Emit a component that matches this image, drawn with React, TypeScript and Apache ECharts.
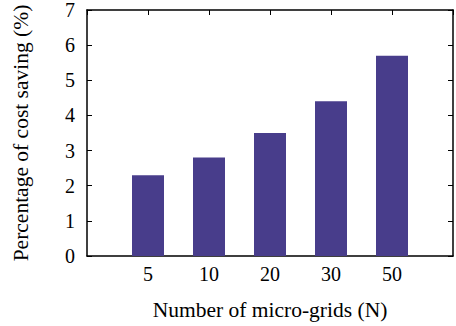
import React, { useEffect, useRef } from "react";
import * as echarts from "echarts";

const categories: string[] = ["5", "10", "20", "30", "50"];
const savings: number[] = [2.3, 2.8, 3.5, 4.4, 5.7];
const yTicks: number[] = [0, 1, 2, 3, 4, 5, 6, 7];

const FONT = "'Liberation Serif', 'Times New Roman', serif";

export default function App() {
  const ref = useRef<HTMLDivElement>(null);
  useEffect(() => {
    if (!ref.current) return;
    const chart = echarts.init(ref.current, null, { renderer: "svg" });
    const labelFor = (v: number) => {
      const i = Math.round(v) - 1;
      return i >= 0 && i < categories.length ? categories[i] : "";
    };
    const axisLine = { show: true, onZero: false, lineStyle: { color: "#000", width: 1.5 } };
    const tick = {
      show: true,
      inside: true,
      length: 5,
      lineStyle: { color: "#000", width: 1 },
    };
    chart.setOption({
      animation: false,
      textStyle: { fontFamily: FONT },
      grid: { left: 87, top: 9.5, width: 371, height: 248.5, show: false },
      xAxis: [
        {
          type: "value",
          min: 0,
          max: categories.length + 1,
          interval: 1,
          position: "bottom",
          axisLine,
          axisTick: { show: false },
          splitLine: { show: false },
          axisLabel: {
            formatter: labelFor,
            color: "#000",
            fontFamily: FONT,
            fontSize: 20,
            margin: 8,
          },
          name: "Number of micro-grids (N)",
          nameLocation: "middle",
          nameGap: 43,
          nameTextStyle: { color: "#000", fontFamily: FONT, fontSize: 21.5 },
        },
        {
          type: "value",
          min: 0,
          max: categories.length + 1,
          interval: 1,
          position: "top",
          axisLine,
          axisTick: tick,
          axisLabel: { show: false },
          splitLine: { show: false },
        },
      ],
      yAxis: [
        {
          type: "value",
          min: yTicks[0],
          max: yTicks[yTicks.length - 1],
          interval: 1,
          position: "left",
          axisLine,
          axisTick: tick,
          splitLine: { show: false },
          axisLabel: {
            color: "#000",
            fontFamily: FONT,
            fontSize: 20,
            margin: 12,
          },
          name: "Percentage of cost saving (%)",
          nameLocation: "middle",
          nameGap: 55,
          nameTextStyle: { color: "#000", fontFamily: FONT, fontSize: 21.5 },
        },
        {
          type: "value",
          min: yTicks[0],
          max: yTicks[yTicks.length - 1],
          interval: 1,
          position: "right",
          axisLine,
          axisTick: tick,
          splitLine: { show: false },
          axisLabel: { show: false },
        },
      ],
      series: [
        {
          type: "bar",
          xAxisIndex: 0,
          yAxisIndex: 0,
          barWidth: 32,
          data: categories.map((_, i) => [i + 1, savings[i]]),
          itemStyle: { color: "#483d8b" },
        },
      ],
    });
    return () => chart.dispose();
  }, []);
  return (
    <div
      ref={ref}
      style={{ position: "absolute", left: 0, top: 0, width: 456, height: 326 }}
    />
  );
}
